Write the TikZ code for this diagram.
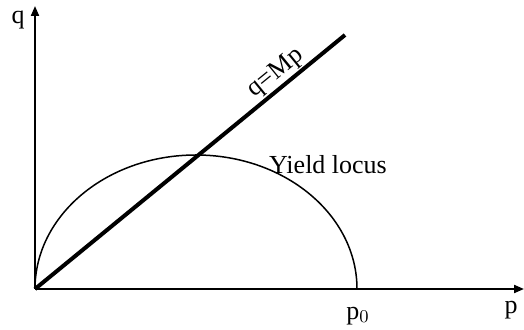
\documentclass[tikz,border=0pt]{standalone}
\usepackage{fontspec}
\setmainfont{Liberation Serif}
\usepackage{tikz}
\usetikzlibrary{arrows.meta,positioning}

\begin{document}
\begin{tikzpicture}[x=0.5pt,y=0.5pt,
  axis/.style={line width=1pt,-{Triangle[length=5pt,width=4pt]}},
  lbl/.style={font=\fontsize{13}{15}\selectfont,inner sep=0pt}]
  \useasboundingbox (0,0) rectangle (524,330);
  % axes
  \coordinate (O) at (35,41);
  \coordinate (qtip) at (35,324);
  \coordinate (ptip) at (524,41);
  \coordinate (p0) at (357,41);
  \coordinate (Mend) at (345,295);
  \draw[axis] (O) -- (qtip);
  \draw[axis] (O) -- (ptip);
  \node[lbl] (qlab) at (18,310) {q};
  \node[lbl] (plab) at (511,20) {p};
  \node[lbl] (p0lab) at (358,14) {p$_0$};
  % yield locus (upper half ellipse)
  \draw[line width=0.75pt] (p0) arc[start angle=0,end angle=180,x radius=161,y radius=134];
  \node[lbl] (ylab) at (328,165) {Yield locus};
  % critical state line
  \draw[line width=2pt] (O) -- (Mend);
  \node[lbl,rotate=39.2] (mlab) at (276,257) {q=Mp};
\end{tikzpicture}
\end{document}
